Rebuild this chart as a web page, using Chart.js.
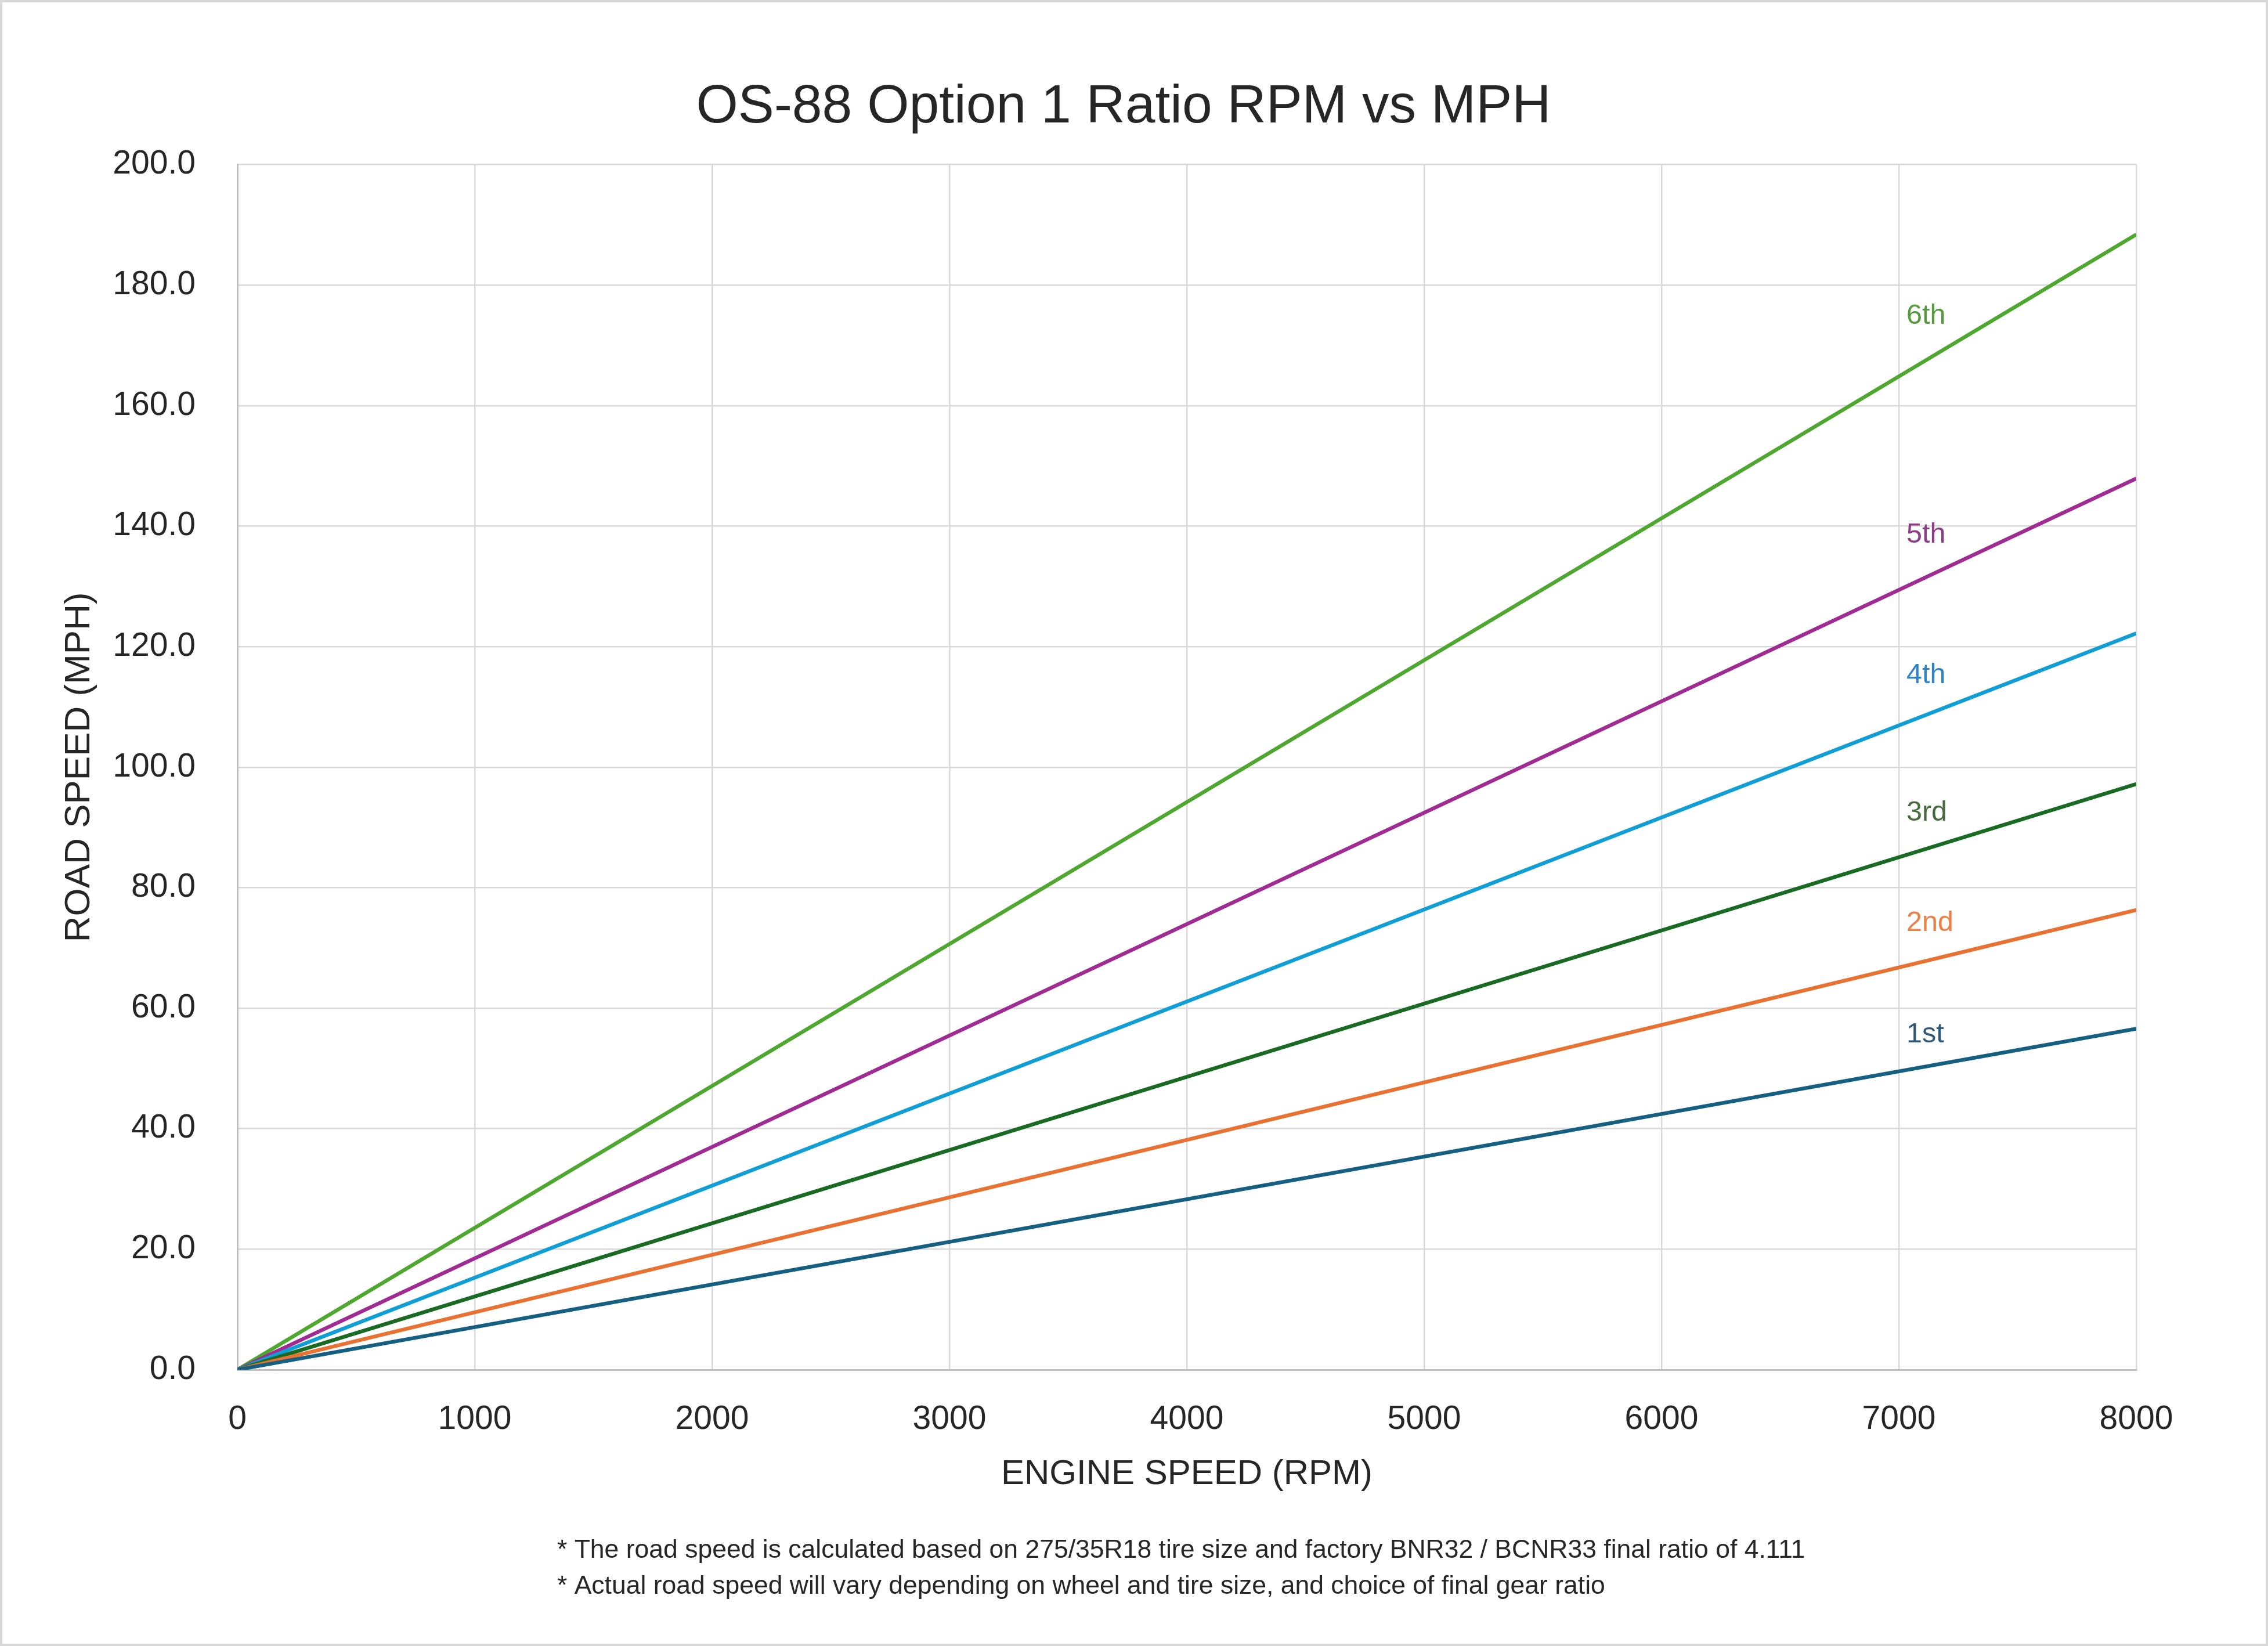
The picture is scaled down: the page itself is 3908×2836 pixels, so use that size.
<!DOCTYPE html>
<html>
<head>
<meta charset="utf-8">
<title>OS-88 Option 1 Ratio RPM vs MPH</title>
<script src="https://cdn.jsdelivr.net/npm/chart.js@4.4.1/dist/chart.umd.min.js"></script>
<style>
  html, body { margin: 0; padding: 0; background: #fff; }
  #chart { display: block; }
</style>
</head>
<body>
<canvas id="chart" width="3908" height="2836" style="width:3908px;height:2836px"></canvas>
<script>
// engine speed points (RPM) and road speed per gear (MPH)
const rpm = [0, 8000];
const gearNames = ['1st', '2nd', '3rd', '4th', '5th', '6th'];
const mph1st = [0, 56.6];
const mph2nd = [0, 76.3];
const mph3rd = [0, 97.2];
const mph4th = [0, 122.2];
const mph5th = [0, 147.9];
const mph6th = [0, 188.4];

// where the gear name labels sit (data units)
const labelRpm = 7000;
const labelMph = [56.1, 74.6, 92.9, 115.7, 139.0, 175.3];

const footnotes = [
    '* The road speed is calculated based on 275/35R18 tire size and factory BNR32 / BCNR33 final ratio of 4.111',
    '* Actual road speed will vary depending on wheel and tire size, and choice of final gear ratio'
];

const lineColors = ['#156082', '#e97132', '#196b24', '#0f9ed5', '#a02b93', '#4ea72e'];
const labelColors = ['#2e5878', '#ea8147', '#466c3e', '#2f84c8', '#8e3a88', '#559a3c'];
const FONT = '"Liberation Sans", Arial, sans-serif';
const TEXT = '#262626';

const series = [mph1st, mph2nd, mph3rd, mph4th, mph5th, mph6th];

const datasets = series.map((vals, i) => ({
    label: gearNames[i],
    data: vals.map((v, j) => ({ x: rpm[j], y: v })),
    borderColor: lineColors[i],
    backgroundColor: lineColors[i],
    borderWidth: 6.5,
    pointRadius: 0,
    tension: 0
}));

// white background and thin frame round the whole picture
const framePlugin = {
    id: 'frame',
    beforeDraw(chart) {
        const ctx = chart.ctx;
        ctx.save();
        ctx.fillStyle = '#fff';
        ctx.fillRect(0, 0, chart.width, chart.height);
        ctx.strokeStyle = '#d9d9d9';
        ctx.lineWidth = 4;
        ctx.strokeRect(2, 2, chart.width - 4, chart.height - 4);
        ctx.restore();
    }
};

// gear names next to the lines
const gearLabelPlugin = {
    id: 'gearLabels',
    afterDatasetsDraw(chart) {
        const { ctx, scales: { x, y } } = chart;
        ctx.save();
        ctx.font = '48.5px ' + FONT;
        ctx.textAlign = 'left';
        ctx.textBaseline = 'middle';
        gearNames.forEach((name, i) => {
            ctx.fillStyle = labelColors[i];
            ctx.fillText(name, x.getPixelForValue(labelRpm) + 13, y.getPixelForValue(labelMph[i]) + 5);
        });
        ctx.restore();
    }
};

// footnote under the axis title
const footnotePlugin = {
    id: 'footnote',
    afterDraw(chart) {
        const ctx = chart.ctx;
        ctx.save();
        ctx.font = '44.5px ' + FONT;
        ctx.fillStyle = TEXT;
        ctx.textAlign = 'left';
        ctx.textBaseline = 'middle';
        ctx.fillText(footnotes[0], 960, 2672);
        ctx.fillText(footnotes[1], 960, 2734);
        ctx.restore();
    }
};

new Chart(document.getElementById('chart'), {
    type: 'line',
    data: { datasets: datasets },
    plugins: [framePlugin, gearLabelPlugin, footnotePlugin],
    options: {
        responsive: false,
        animation: false,
        devicePixelRatio: 1,
        layout: { padding: { left: 0, right: 36, top: 0, bottom: 0 } },
        plugins: {
            legend: { display: false },
            tooltip: { enabled: false },
            title: {
                display: true,
                text: 'OS-88 Option 1 Ratio RPM vs MPH',
                color: TEXT,
                font: { family: FONT, size: 93, weight: 'normal', lineHeight: 1.2 },
                padding: { top: 130, bottom: 42 }
            }
        },
        scales: {
            x: {
                type: 'linear',
                min: 0,
                max: 8000,
                afterFit(scale) { scale.height = 476; },
                ticks: {
                    stepSize: 1000,
                    color: TEXT,
                    font: { family: FONT, size: 57 },
                    padding: 52,
                    maxRotation: 0,
                    callback: (v) => String(v)
                },
                grid: { color: '#d9d9d9', lineWidth: 2.5, drawTicks: false },
                border: { color: '#bfbfbf', width: 3 },
                title: {
                    display: true,
                    text: 'ENGINE SPEED (RPM)',
                    color: TEXT,
                    font: { family: FONT, size: 60, lineHeight: 1.2 },
                    padding: { top: 0, bottom: 260 }
                }
            },
            y: {
                type: 'linear',
                min: 0,
                max: 200,
                afterFit(scale) { scale.width = 409; },
                ticks: {
                    stepSize: 20,
                    color: TEXT,
                    font: { family: FONT, size: 57 },
                    padding: 72,
                    callback: (v) => v.toFixed(1)
                },
                grid: { color: '#d9d9d9', lineWidth: 2.5, drawTicks: false },
                border: { color: '#bfbfbf', width: 3 },
                title: {
                    display: true,
                    text: 'ROAD SPEED (MPH)',
                    color: TEXT,
                    font: { family: FONT, size: 62, lineHeight: 1.2 },
                    padding: { top: 100, bottom: 0 }
                }
            },
            // empty right-hand axis that only keeps the white margin on the right
            spacer: {
                type: 'linear',
                position: 'right',
                min: 0,
                max: 200,
                afterFit(scale) { scale.width = 191; },
                ticks: { display: false },
                grid: { display: false, drawTicks: false },
                border: { display: false }
            }
        }
    }
});
</script>
</body>
</html>
